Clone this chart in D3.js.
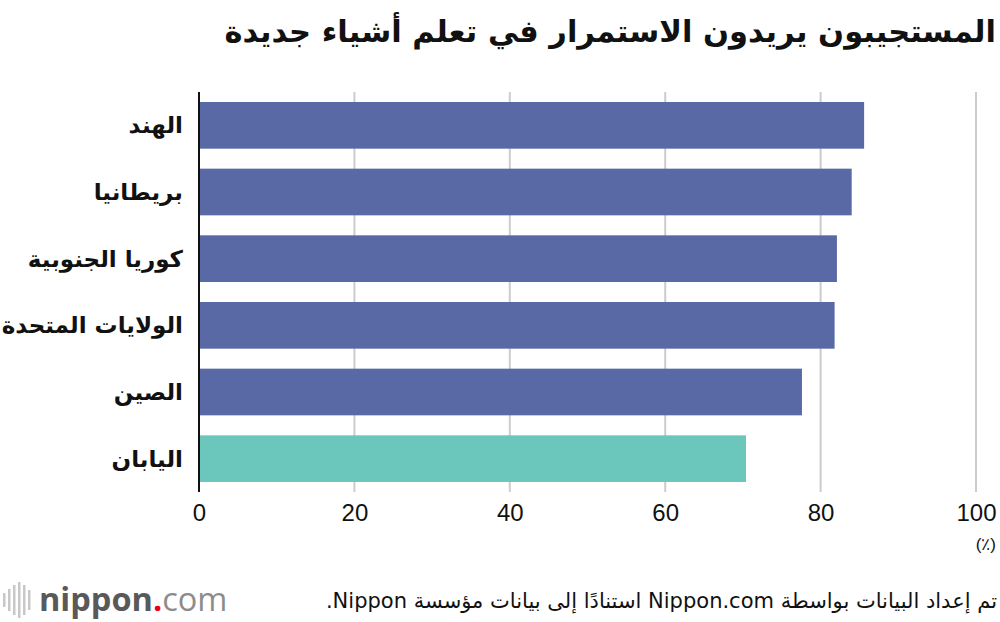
<!DOCTYPE html>
<html>
<head>
<meta charset="utf-8">
<script src="https://cdn.jsdelivr.net/npm/d3@7"></script>
<style>
  body { margin: 0; background: #fff; }
  svg { display: block; }
</style>
</head>
<body>
<div id="chart"></div>
<script>
// data
var countries = ['الهند', 'بريطانيا', 'كوريا الجنوبية', 'الولايات المتحدة', 'الصين', 'اليابان'];
var values = [85.6, 84.0, 82.1, 81.8, 77.6, 70.4];
var highlight = ['اليابان'];
var xTicks = [0, 20, 40, 60, 80, 100];

var titleText = 'المستجيبون يريدون الاستمرار في تعلم أشياء جديدة';
var sourceText = 'تم إعداد البيانات بواسطة Nippon.com استنادًا إلى بيانات مؤسسة Nippon.';

var width = 1000, height = 622;
var margins = {top: 92, right: 24, bottom: 130, left: 199};
var arFont = '"DejaVu Sans", sans-serif';
var numFont = '"Liberation Sans Narrow", "Liberation Sans", Arial, sans-serif';

var svg = d3.select('#chart').append('svg')
  .attr('width', width)
  .attr('height', height);

var x = d3.scaleLinear().domain([0, 100]).range([margins.left, 976]);
var y = d3.scaleBand().domain(countries)
  .range([margins.top, height - margins.bottom])
  .paddingInner(0.3)
  .paddingOuter(0.15);

// shrink a text's font until it fits a given width
function fitText (sel, maxW, size) {
  sel.style('font-size', size + 'px');
  while (sel.node().getComputedTextLength() > maxW && size > 8) {
    size -= 0.5;
    sel.style('font-size', size + 'px');
  }
}

// title (rtl: text-anchor start puts the right edge at x)
var title = svg.append('text')
  .attr('x', 996).attr('y', 42)
  .attr('text-anchor', 'start')
  .attr('direction', 'rtl')
  .style('font-family', arFont)
  .style('font-weight', 'bold')
  .attr('fill', '#111')
  .text(titleText);
fitText(title, 774, 34);

// gridlines
svg.append('g').selectAll('line')
  .data(xTicks.slice(1))
  .join('line')
  .attr('x1', d => x(d)).attr('x2', d => x(d))
  .attr('y1', margins.top).attr('y2', height - margins.bottom)
  .attr('stroke', '#cccccc')
  .attr('stroke-width', 2);

// bars
svg.append('g').selectAll('rect')
  .data(countries)
  .join('rect')
  .attr('x', x(0))
  .attr('y', d => y(d))
  .attr('width', (d, i) => x(values[i]) - x(0))
  .attr('height', y.bandwidth())
  .attr('fill', d => highlight.indexOf(d) >= 0 ? '#6bc7bb' : '#5869a6');

// y axis line
svg.append('line')
  .attr('x1', x(0)).attr('x2', x(0))
  .attr('y1', margins.top).attr('y2', height - margins.bottom)
  .attr('stroke', '#111')
  .attr('stroke-width', 2);

// category labels
svg.append('g').selectAll('text')
  .data(countries)
  .join('text')
  .attr('x', 183)
  .attr('y', d => y(d) + y.bandwidth() / 2)
  .attr('dy', '0.35em')
  .attr('text-anchor', 'start')
  .attr('direction', 'rtl')
  .style('font-family', arFont)
  .style('font-weight', 'bold')
  .style('font-size', '23px')
  .attr('fill', '#111')
  .text(d => d);

// x axis
var xAxis = svg.append('g')
  .attr('transform', 'translate(0,' + (height - margins.bottom) + ')')
  .call(d3.axisBottom(x).tickValues(xTicks).tickSize(0).tickPadding(12));
xAxis.select('.domain').remove();
xAxis.selectAll('text')
  .style('font-family', numFont)
  .style('font-size', '24px')
  .attr('fill', '#111');

svg.append('text')
  .attr('x', 996).attr('y', 550)
  .attr('text-anchor', 'end')
  .style('font-family', numFont)
  .style('font-size', '17px')
  .attr('fill', '#111')
  .text('(٪)');

// source line
var src = svg.append('text')
  .attr('x', 997).attr('y', 608)
  .attr('text-anchor', 'start')
  .attr('direction', 'rtl')
  .style('font-family', arFont)
  .attr('fill', '#111')
  .text(sourceText);
fitText(src, 756, 21);

// logo
var logo = svg.append('g');
var stripes = [[3, 7], [8, 11], [13, 15], [18, 18], [23, 15], [28, 10]];
logo.selectAll('rect')
  .data(stripes)
  .join('rect')
  .attr('x', d => d[0])
  .attr('y', d => 600 - d[1])
  .attr('width', 2.5)
  .attr('height', d => d[1] * 2)
  .attr('fill', '#c8c8c8');
var lt = logo.append('text')
  .attr('x', 39).attr('y', 611)
  .style('font-family', '"Open Sans", "DejaVu Sans", sans-serif')
  .style('font-size', '32.5px');
lt.append('tspan').attr('fill', '#595959').style('font-weight', 'bold').text('nippon');
lt.append('tspan').attr('fill', '#e60012').style('font-weight', 'bold').text('.');
lt.append('tspan').attr('fill', '#8c8c8c').style('font-weight', 'normal').text('com');
</script>
</body>
</html>
